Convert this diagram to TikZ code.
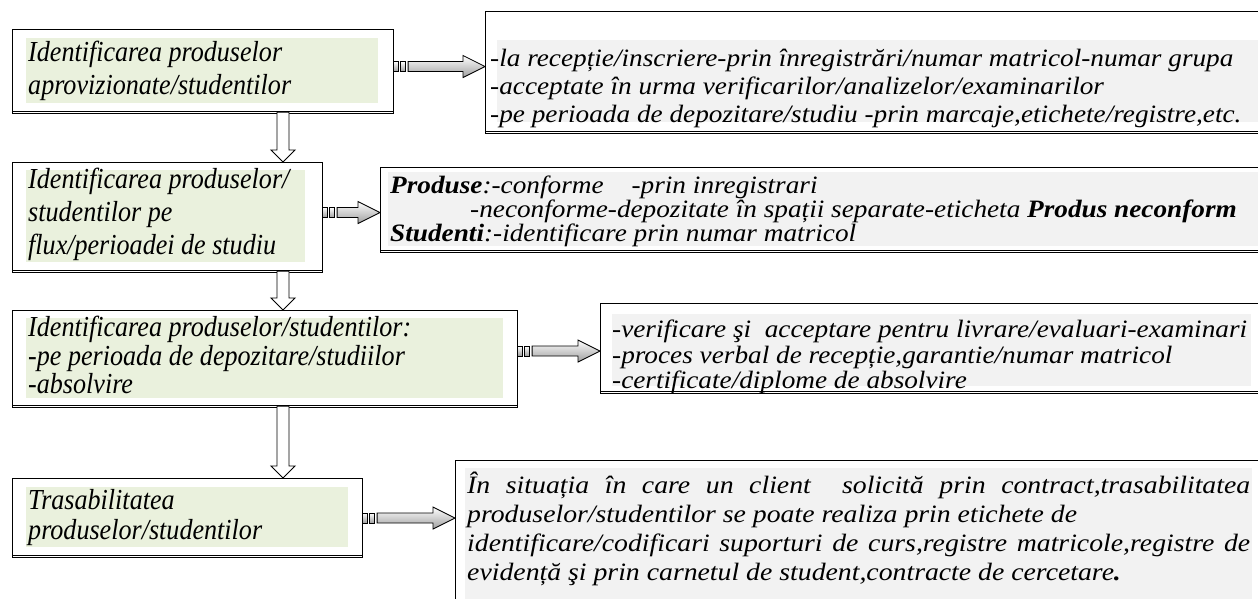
\documentclass[tikz,border=0pt]{standalone}
\usepackage{fontspec}
\setmainfont{Liberation Serif}
\newfontfamily\lfont[FakeStretch=0.9]{Liberation Serif}
\newfontfamily\rfont[FakeStretch=1.09]{Liberation Serif}
\newfontfamily\rfontw[FakeStretch=1.11]{Liberation Serif}
\usetikzlibrary{calc}
\definecolor{lgreen}{HTML}{EAF1DD}
\definecolor{lgray}{HTML}{F2F2F2}
\tikzset{
  box/.style={draw=black, line width=1.1pt, fill=white, rectangle, inner sep=0pt, anchor=north west,
    preaction={draw=black, line width=1pt, transform canvas={yshift=-2.2pt}}},
  ltext/.style={anchor=north west, inner sep=0pt, align=left, font=\lfont\fontsize{29}{33}\selectfont\itshape},
  rtext/.style={anchor=north west, inner sep=0pt, align=left, font=\rfont\fontsize{25}{28}\selectfont\itshape},
  arrbody/.style={draw=black, line width=0.8pt, top color=white, bottom color=black!38},
  downbody/.style={draw=black, line width=0.9pt, fill=white},
}
\newcommand{\StripedArrow}[3]{%
  \coordinate (sa) at ($(#1.east)+(0,#3)$);
  \coordinate (sb) at (#2.west |- sa);
  \draw[arrbody] ($(sa)+(-1,-5)$) rectangle ($(sa)+(4,5)$);
  \draw[arrbody] ($(sa)+(6,-5)$) rectangle ($(sa)+(11,5)$);
  \draw[arrbody] ($(sa)+(14,-5)$) -- ($(sb)+(-22,-5)$) -- ($(sb)+(-22,-11)$) -- (sb)
     -- ($(sb)+(-22,11)$) -- ($(sb)+(-22,5)$) -- ($(sa)+(14,5)$) -- cycle;
}
\newcommand{\DownBlock}[2]{%
  \coordinate (da) at (spine |- #1.south);
  \coordinate (db) at (spine |- #2.north);
  \draw[downbody] ($(da)+(-6,0)$) -- ($(db)+(-6,-12)$) -- ($(db)+(-12,-12)$) -- (db)
     -- ($(db)+(12,-12)$) -- ($(db)+(6,-12)$) -- ($(da)+(6,0)$) -- cycle;
}
\begin{document}
\begin{tikzpicture}[x=1pt,y=-1pt]
\useasboundingbox (0,0) rectangle (1258,598);
\clip (0,0) rectangle (1258,598);
\coordinate (spine) at (283,0);
% left boxes
\node[box, minimum width=381pt, minimum height=82pt] (b1) at (12,29) {};
\node[box, minimum width=310pt, minimum height=108pt] (b2) at (12,162) {};
\node[box, minimum width=505pt, minimum height=95pt] (b3) at (12,310) {};
\node[box, minimum width=350pt, minimum height=77pt] (b4) at (12,478) {};
% right boxes
\node[box, minimum width=800pt, minimum height=120pt] (r1) at (485,11) {};
\node[box, minimum width=900pt, minimum height=83pt] (r2) at (380,167) {};
\node[box, minimum width=700pt, minimum height=88pt] (r3) at (600,303) {};
\node[box, minimum width=820pt, minimum height=160pt] (r4) at (455,460) {};
% fills
\fill[lgreen] (26,38) rectangle (378,103);
\fill[lgreen] (26,170) rectangle (305,262);
\fill[lgreen] (26,318) rectangle (503,398);
\fill[lgreen] (26,487) rectangle (348,547);
\fill[lgray] (497,40) rectangle (1258,122);
\fill[lgray] (388,172) rectangle (1258,246);
\fill[lgray] (612,314) rectangle (1251,386);
\fill[lgray] (465,468) rectangle (1252,600);
% texts
\node[ltext] (t1) at (28,41) {Identificarea produselor\\aprovizionate/studentilor};
\node[ltext] (t2) at (28,168) {Identificarea produselor/\\studentilor pe\\flux/perioadei de studiu};
\node[ltext, font=\lfont\fontsize{29}{28.5}\selectfont\itshape] (t3) at (28,316) {Identificarea produselor/studentilor:\\-pe perioada de depozitare/studiilor\\-absolvire};
\node[ltext, font=\lfont\fontsize{29}{30}\selectfont\itshape] (t4) at (28,489) {Trasabilitatea\\produselor/studentilor};
\node[rtext] (u1) at (490,49) {-la recepție/inscriere-prin înregistrări/numar matricol-numar grupa\\-acceptate în urma verificarilor/analizelor/examinarilor\\-pe perioada de depozitare/studiu -prin marcaje,etichete/registre,etc.};
\node[rtext, font=\rfont\fontsize{25}{24}\selectfont\itshape] (u2) at (390,176) {\textbf{Produse}:-conforme\hspace{28pt}-prin inregistrari\\\hspace*{80pt}-neconforme-depozitate în spații separate-eticheta \textbf{Produs neconform}\\\textbf{Studenti}:-identificare prin numar matricol};
\node[rtext, font=\rfont\fontsize{25}{25.5}\selectfont\itshape] (u3) at (612,320) {-verificare şi\ \ acceptare pentru livrare/evaluari-examinari\\-proces verbal de recepție,garantie/numar matricol\\-certificate/diplome de absolvire};
\node[rtext, font=\rfontw\fontsize{25}{29}\selectfont\itshape] (u4) at (467,472) {\makebox[783pt][s]{În situația în care un client\ \ solicită prin contract,trasabilitatea}\\produselor/studentilor se poate realiza prin etichete de\\\makebox[783pt][s]{identificare/codificari suporturi de curs,registre matricole,registre de}\\evidență şi prin carnetul de student,contracte de cercetare\textbf{.}};
% connectors
\StripedArrow{b1}{r1}{-4}
\StripedArrow{b2}{r2}{-4}
\StripedArrow{b3}{r3}{-7}
\StripedArrow{b4}{r4}{1}
\DownBlock{b1}{b2}
\DownBlock{b2}{b3}
\DownBlock{b3}{b4}
\end{tikzpicture}
\end{document}
